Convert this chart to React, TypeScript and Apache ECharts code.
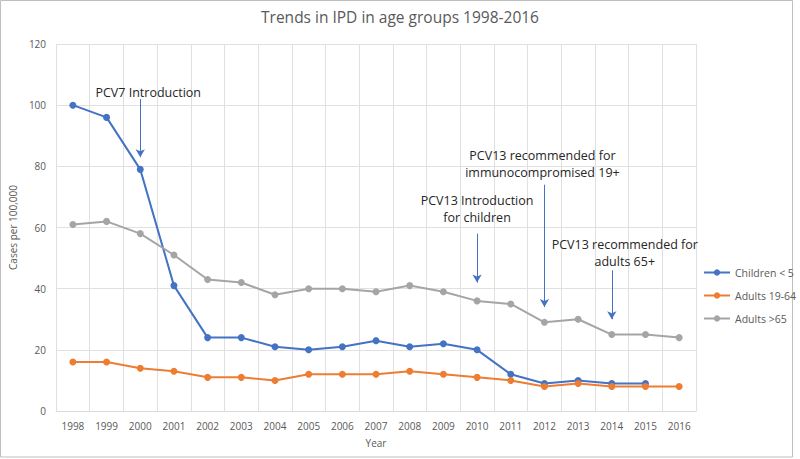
import React, { useEffect, useRef } from "react";
import * as echarts from "echarts";

const years = ["1998","1999","2000","2001","2002","2003","2004","2005","2006","2007","2008","2009","2010","2011","2012","2013","2014","2015","2016"];
const children = [100,96,79,41,24,24,21,20,21,23,21,22,20,12,9,10,9,9,null];
const adults1964 = [16,16,14,13,11,11,10,12,12,12,13,12,11,10,8,9,8,8,8];
const adults65 = [61,62,58,51,43,42,38,40,40,39,41,39,36,35,29,30,25,25,24];
const yTicks = [0, 20, 40, 60, 80, 100, 120];

// Annotation arrows: year, value where arrow starts, value where it ends
const arrowYears = ["2000", "2010", "2012", "2014"];
const arrowFrom = [102, 58, 74, 46];
const arrowTo = [83, 42, 34, 30];
// Annotation texts, anchored in data space (year, value)
const noteLines = [
  ["PCV7 Introduction"],
  ["PCV13 Introduction", "for children"],
  ["PCV13 recommended for", "immunocompromised 19+"],
  ["PCV13 recommended for", "adults 65+"],
];
const noteYears = ["2000", "2010", "2012", "2014"];
const noteValues = [104.3, 65.9, 80.9, 51.5];
const noteDx = [8, 0, -2, 13];

const FONT = "'Open Sans', sans-serif";
const GREY_TEXT = "#595959";

export default function App() {
  const ref = useRef<HTMLDivElement>(null);
  useEffect(() => {
    if (!ref.current) return;
    const chart = echarts.init(ref.current, null, { renderer: "svg" });
    const mkSeries = (name: string, data: (number | null)[], color: string, withArrows: boolean) => ({
      name,
      type: "line",
      data,
      symbol: "circle",
      symbolSize: 7,
      itemStyle: { color },
      lineStyle: { color, width: 2 },
      connectNulls: false,
      markLine: withArrows
        ? {
            silent: true,
            symbol: ["none", "arrow"],
            symbolSize: [7, 8],
            label: { show: false },
            lineStyle: { color: "#4472c4", width: 1, type: "solid" },
            data: arrowYears.map((y, i) => [
              { coord: [y, arrowFrom[i]] },
              { coord: [y, arrowTo[i]] },
            ]),
          }
        : undefined,
    });
    chart.setOption({
      animation: false,
      backgroundColor: "#ffffff",
      textStyle: { fontFamily: FONT },
      title: {
        text: "Trends in IPD in age groups 1998-2016",
        left: "center",
        top: 4,
        textStyle: { fontFamily: FONT, fontSize: 15.5, fontWeight: "normal", color: GREY_TEXT },
      },
      legend: {
        orient: "vertical",
        left: 698,
        top: 262,
        itemWidth: 26,
        itemHeight: 8,
        itemGap: 12,
        textStyle: { fontFamily: FONT, fontSize: 10.5, color: GREY_TEXT },
        data: ["Children < 5", "Adults 19-64", "Adults >65"],
      },
      grid: { left: 52, right: 104, top: 44, bottom: 48 },
      xAxis: {
        type: "category",
        data: years,
        boundaryGap: true,
        name: "Year",
        nameLocation: "middle",
        nameGap: 27,
        nameTextStyle: { fontFamily: FONT, fontSize: 10, color: GREY_TEXT },
        axisLine: { show: true, lineStyle: { color: "#d9d9d9" } },
        axisTick: { show: false },
        axisLabel: { fontFamily: FONT, fontSize: 10, color: GREY_TEXT, margin: 10 },
        splitLine: { show: true, lineStyle: { color: "#e0e0e0" } },
      },
      yAxis: {
        type: "value",
        min: yTicks[0],
        max: yTicks[yTicks.length - 1],
        interval: 20,
        name: "Cases per 100,000",
        nameLocation: "middle",
        nameGap: 38,
        nameTextStyle: { fontFamily: FONT, fontSize: 10, color: GREY_TEXT },
        axisLine: { show: false },
        axisTick: { show: false },
        axisLabel: { fontFamily: FONT, fontSize: 10, color: GREY_TEXT, margin: 10 },
        splitLine: { show: true, lineStyle: { color: "#e0e0e0" } },
      },
      series: [
        mkSeries("Children < 5", children, "#4472c4", true),
        mkSeries("Adults 19-64", adults1964, "#ed7d31", false),
        mkSeries("Adults >65", adults65, "#a5a5a5", false),
      ],
    });

    const texts = noteLines.map((lines, i) => {
      const p = chart.convertToPixel({ gridIndex: 0 }, [noteYears[i], noteValues[i]]) as number[];
      return {
        type: "text",
        x: p[0] + noteDx[i],
        y: p[1],
        style: {
          text: lines.join("\n"),
          fontFamily: FONT,
          fontSize: 12.5,
          lineHeight: 17,
          fill: "#262626",
          align: "center",
          verticalAlign: "middle",
        },
        silent: true,
      };
    });
    chart.setOption({
      graphic: [
        {
          type: "rect",
          shape: { x: 0.5, y: 0.5, width: 792, height: 456.5 },
          style: { fill: "none", stroke: "#bfbfbf", lineWidth: 1 },
          silent: true,
        },
        ...texts,
      ],
    });
    return () => chart.dispose();
  }, []);
  return (
    <div
      ref={ref}
      style={{ position: "fixed", left: 0, top: 0, width: 800, height: 459 }}
    />
  );
}
